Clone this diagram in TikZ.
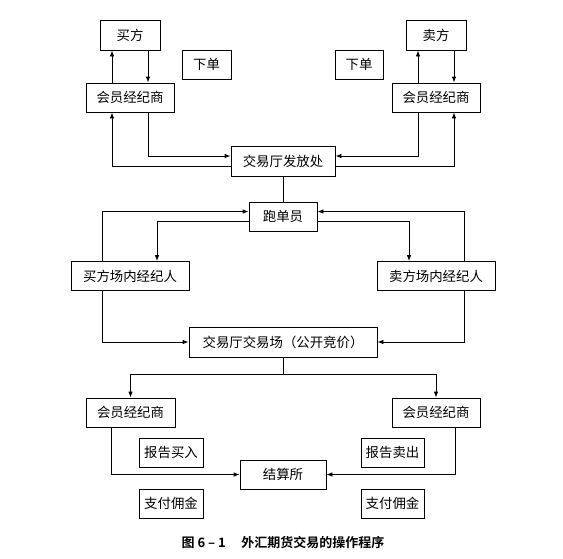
\documentclass[tikz,border=0pt]{standalone}
\usepackage{fontspec}
\setmainfont{Noto Sans CJK SC}
\newfontfamily\capfont{Noto Sans CJK SC Bold}
\usetikzlibrary{arrows.meta}
\begin{document}
\begin{tikzpicture}[x=1pt,y=-1pt,
  box/.style={draw,line width=0.8pt,inner sep=0pt,minimum height=29pt,font=\fontsize{13.4}{15}\selectfont},
  arr/.style={line width=0.8pt,-{Latex[length=6pt,width=4.5pt]}},
  ln/.style={line width=0.8pt}]
\useasboundingbox (0,0) rectangle (563,558);
% top
\node[box,minimum width=60pt,minimum height=30pt] (buyer) at (130,35) {买方};
\node[box,minimum width=60pt,minimum height=30pt] (seller) at (436,35) {卖方};
\node[box,minimum width=49pt] (xd1) at (206.5,64.5) {下单};
\node[box,minimum width=48pt] (xd2) at (359,64.5) {下单};
\node[box,minimum width=88pt] (m1) at (130,97.5) {会员经纪商};
\node[box,minimum width=88pt] (m2) at (436,97.5) {会员经纪商};
\node[box,minimum width=104pt,minimum height=30pt] (hall) at (283,161) {交易厅发放处};
\node[box,minimum width=68pt] (runner) at (283,216.5) {跑单员};
\node[box,minimum width=118pt] (fb) at (130,276) {买方场内经纪人};
\node[box,minimum width=118pt] (fs) at (436,276) {卖方场内经纪人};
\node[box,minimum width=188pt,minimum height=30pt] (floor) at (283,342) {交易厅交易场（公开竞价）};
\coordinate (split) at (283,374);
\node[box,minimum width=89pt] (m3) at (130.5,412.5) {会员经纪商};
\node[box,minimum width=88pt] (m4) at (436,412.5) {会员经纪商};
\node[box,minimum width=64pt] (rb) at (171,452.5) {报告买入};
\node[box,minimum width=63pt] (rs) at (392.5,452.5) {报告卖出};
\node[box,minimum width=86pt] (clr) at (283,474.5) {结算所};
\node[box,minimum width=64pt] (pb) at (171,503.5) {支付佣金};
\node[box,minimum width=63pt] (ps) at (392.5,503.5) {支付佣金};
\node[font=\capfont\fontsize{13}{15}\selectfont] (cap) at (283,543) {图 6 – 1\hspace{1.2em}外汇期货交易的操作程序};
% connectors top-left
\draw[arr] ([xshift=-18pt]m1.north) -- ([xshift=-18pt]buyer.south);
\draw[arr] ([xshift=18pt]buyer.south) -- ([xshift=18pt]m1.north);
\draw[arr] ([xshift=18pt]m1.south) |- ([yshift=5pt]hall.west);
\draw[arr] ([yshift=-5pt]hall.west) -| ([xshift=-18pt]m1.south);
% top-right
\draw[arr] ([xshift=-18pt]m2.north) -- ([xshift=-18pt]seller.south);
\draw[arr] ([xshift=18pt]seller.south) -- ([xshift=18pt]m2.north);
\draw[arr] ([xshift=-18pt]m2.south) |- ([yshift=5pt]hall.east);
\draw[arr] ([yshift=-5pt]hall.east) -| ([xshift=18pt]m2.south);
% hall to runner
\draw[ln] (hall.south) -- (runner.north);
% runner loops
\draw[arr] ([xshift=-28pt]fb.north) |- ([yshift=5pt]runner.west);
\draw[arr] ([yshift=-5pt]runner.west) -| ([xshift=27pt]fb.north);
\draw[arr] ([xshift=28pt]fs.north) |- ([yshift=5pt]runner.east);
\draw[arr] ([yshift=-5pt]runner.east) -| ([xshift=-27pt]fs.north);
% to floor
\draw[arr] ([xshift=-28pt]fb.south) |- (floor.west);
\draw[arr] ([xshift=28pt]fs.south) |- (floor.east);
% floor split
\draw[ln] (floor.south) -- (split);
\draw[arr] (split) -| (m3.north);
\draw[arr] (split) -| (m4.north);
% to clearing
\draw[arr] ([xshift=-19pt]m3.south) |- (clr.west);
\draw[arr] ([xshift=19pt]m4.south) |- (clr.east);
\end{tikzpicture}
\end{document}
